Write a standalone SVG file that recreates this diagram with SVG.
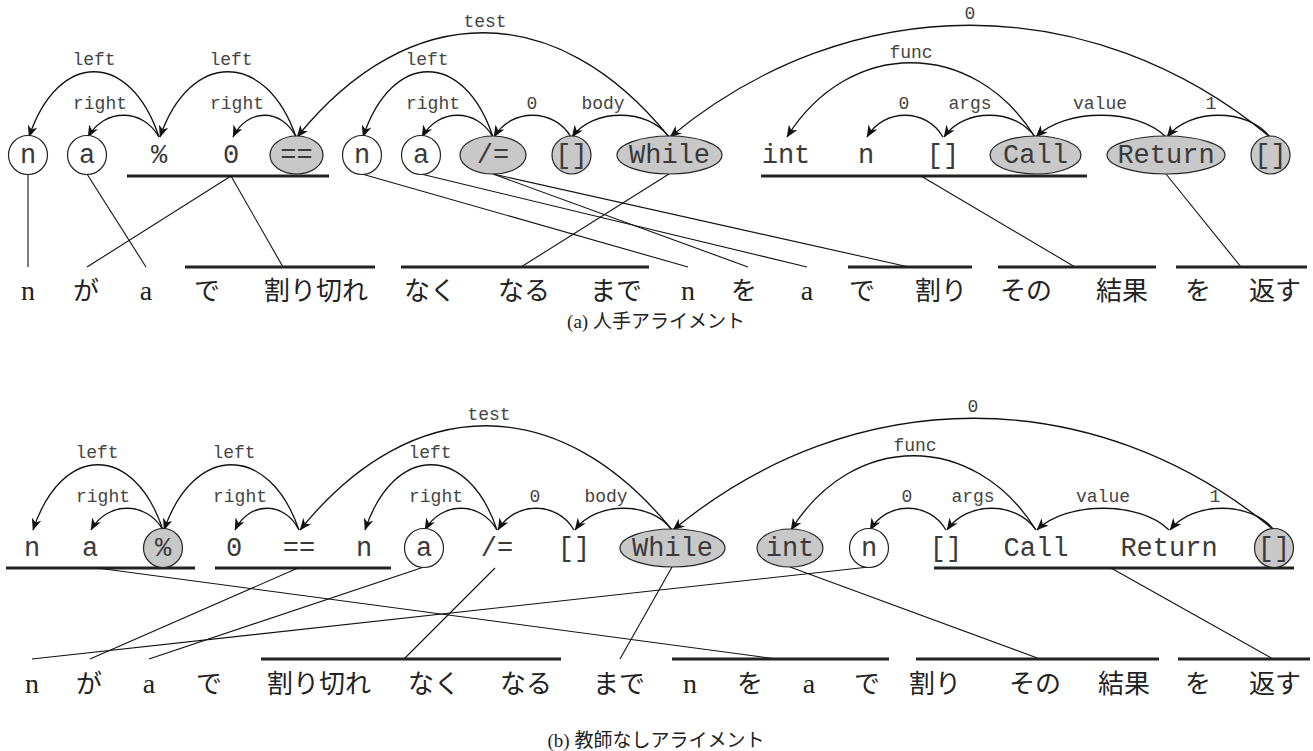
<svg xmlns="http://www.w3.org/2000/svg" width="1313" height="751" viewBox="0 0 1313 751">
<defs>
<marker id="ah" viewBox="0 0 12 10" refX="11.5" refY="5" markerWidth="12" markerHeight="10" markerUnits="userSpaceOnUse" orient="auto">
<path d="M0,0 L12,5 L0,10 L3.5,5 z" fill="#111"/>
</marker>
<style>
.arc{fill:none;stroke:#111;stroke-width:1.3;marker-end:url(#ah)}
.al{stroke:#111;stroke-width:1.1;fill:none}
.ul{stroke:#222;stroke-width:3}
.nd{fill:#fff;stroke:#222;stroke-width:1.2}
.g{fill:#c8c8c8}
.nt{font-family:"Liberation Mono",monospace;font-size:27px;fill:#3a3a3a;text-anchor:middle}
.el{font-family:"Liberation Mono",monospace;font-size:18px;fill:#444;text-anchor:middle}
.w{font-family:"Liberation Serif","Noto Sans CJK JP",serif;font-size:26px;fill:#222;text-anchor:middle}
.wl{font-size:28px}
.cap{font-family:"Liberation Serif","Noto Sans CJK JP",serif;font-size:19px;fill:#222;text-anchor:middle}
</style>
</defs>
<rect width="1313" height="751" fill="#fff"/>

<!-- ===== (a) ===== -->
<g id="a-connectors">
<path class="arc" d="M159,137 C130,50 58,50 29,137"/>
<path class="arc" d="M159,137 C143,108 104,108 88,137"/>
<path class="arc" d="M296,137 C266,50 190,50 160,137"/>
<path class="arc" d="M296,137 C282,108 247,108 233,137"/>
<path class="arc" d="M669,137 C557,-2 409,-2 297,137"/>
<path class="arc" d="M493,137 C464,50 392,50 363,137"/>
<path class="arc" d="M493,137 C477,108 438,108 422,137"/>
<path class="arc" d="M571,137 C554,108 511,108 494,137"/>
<path class="arc" d="M669,137 C648,108 593,108 572,137"/>
<path class="arc" d="M1270,137 C1090,-12 850,-12 670,137"/>
<path class="arc" d="M1035,137 C973,38 849,38 787,137"/>
<path class="arc" d="M943,137 C926,108 884,108 867,137"/>
<path class="arc" d="M1035,137 C1015,108 964,108 944,137"/>
<path class="arc" d="M1166,137 C1137,108 1065,108 1036,137"/>
<path class="arc" d="M1270,137 C1247,108 1190,108 1167,137"/>
<text class="el" x="94" y="65">left</text>
<text class="el" x="100" y="109">right</text>
<text class="el" x="231" y="65">left</text>
<text class="el" x="237" y="109">right</text>
<text class="el" x="485" y="27">test</text>
<text class="el" x="427" y="65">left</text>
<text class="el" x="433" y="109">right</text>
<text class="el" x="532" y="109">0</text>
<text class="el" x="603" y="109">body</text>
<text class="el" x="970" y="19">0</text>
<text class="el" x="911" y="58">func</text>
<text class="el" x="904" y="109">0</text>
<text class="el" x="970" y="109">args</text>
<text class="el" x="1100" y="109">value</text>
<text class="el" x="1211" y="109">1</text>
<line class="ul" x1="127" y1="176" x2="329" y2="176"/>
<line class="ul" x1="761" y1="176" x2="1087" y2="176"/>
<line class="al" x1="28" y1="174" x2="28" y2="267"/>
<line class="al" x1="87" y1="174" x2="146" y2="267"/>
<line class="al" x1="231" y1="176" x2="87" y2="267"/>
<line class="al" x1="231" y1="176" x2="283" y2="267"/>
<line class="al" x1="362" y1="174" x2="688" y2="267"/>
<line class="al" x1="421" y1="174" x2="807" y2="267"/>
<line class="al" x1="493" y1="174" x2="748" y2="267"/>
<line class="al" x1="493" y1="174" x2="909" y2="267"/>
<line class="al" x1="669" y1="174" x2="521" y2="267"/>
<line class="al" x1="921" y1="176" x2="1075" y2="267"/>
<line class="al" x1="1166" y1="174" x2="1241" y2="267"/>
<line class="ul" x1="185" y1="267" x2="375" y2="267"/>
<line class="ul" x1="401" y1="267" x2="649" y2="267"/>
<line class="ul" x1="848" y1="267" x2="972" y2="267"/>
<line class="ul" x1="998" y1="267" x2="1156" y2="267"/>
<line class="ul" x1="1176" y1="267" x2="1307" y2="267"/>
</g>
<g id="a-nodes">
<g id="a-n1"><circle class="nd" cx="28" cy="155" r="19.5"/><text class="nt" x="28" y="163">n</text></g>
<g id="a-a1"><circle class="nd" cx="87" cy="155" r="19.5"/><text class="nt" x="87" y="163">a</text></g>
<g id="a-mod"><text class="nt" x="159" y="163">%</text></g>
<g id="a-zero"><text class="nt" x="231" y="163">0</text></g>
<g id="a-eq"><ellipse class="nd g" cx="296.5" cy="155" rx="26.5" ry="19"/><text class="nt" x="296.5" y="163">==</text></g>
<g id="a-n2"><circle class="nd" cx="362" cy="155" r="19.5"/><text class="nt" x="362" y="163">n</text></g>
<g id="a-a2"><circle class="nd" cx="421" cy="155" r="19.5"/><text class="nt" x="421" y="163">a</text></g>
<g id="a-diveq"><ellipse class="nd g" cx="493" cy="155" rx="33" ry="19"/><text class="nt" x="493" y="163">/=</text></g>
<g id="a-list1"><ellipse class="nd g" cx="571.5" cy="155" rx="19.5" ry="19"/><text class="nt" x="571.5" y="163">[]</text></g>
<g id="a-while"><ellipse class="nd g" cx="669.5" cy="155" rx="52.5" ry="19"/><text class="nt" x="669.5" y="163">While</text></g>
<g id="a-int"><text class="nt" x="786" y="163">int</text></g>
<g id="a-n3"><text class="nt" x="866" y="163">n</text></g>
<g id="a-list2"><text class="nt" x="943" y="163">[]</text></g>
<g id="a-call"><ellipse class="nd g" cx="1035.5" cy="155" rx="45.5" ry="19"/><text class="nt" x="1035.5" y="163">Call</text></g>
<g id="a-return"><ellipse class="nd g" cx="1166" cy="155" rx="59" ry="19"/><text class="nt" x="1166" y="163">Return</text></g>
<g id="a-list3"><ellipse class="nd g" cx="1270.5" cy="155" rx="19.5" ry="19"/><text class="nt" x="1270.5" y="163">[]</text></g>
</g>
<g id="a-words">
<text class="w wl" x="28" y="300">n</text>
<text class="w" x="86" y="300">が</text>
<text class="w wl" x="146" y="300">a</text>
<text class="w" x="207" y="300">で</text>
<text class="w" x="316" y="300">割り切れ</text>
<text class="w" x="430" y="300">なく</text>
<text class="w" x="524" y="300">なる</text>
<text class="w" x="616" y="300">まで</text>
<text class="w wl" x="688" y="300">n</text>
<text class="w" x="744" y="300">を</text>
<text class="w wl" x="807" y="300">a</text>
<text class="w" x="862" y="300">で</text>
<text class="w" x="941" y="300">割り</text>
<text class="w" x="1026" y="300">その</text>
<text class="w" x="1122" y="300">結果</text>
<text class="w" x="1198" y="300">を</text>
<text class="w" x="1275" y="300">返す</text>
</g>
<text class="cap" x="656" y="328">(a) 人手アライメント</text>

<!-- ===== (b) ===== -->
<g id="b-connectors">
<path class="arc" d="M163,530 C134,443 62,443 33,530"/>
<path class="arc" d="M163,530 C147,501 107,501 91,530"/>
<path class="arc" d="M299,530 C269,443 194,443 164,530"/>
<path class="arc" d="M299,530 C285,501 249,501 235,530"/>
<path class="arc" d="M672,530 C560,391 412,391 300,530"/>
<path class="arc" d="M497,530 C468,443 394,443 365,530"/>
<path class="arc" d="M497,530 C481,501 441,501 425,530"/>
<path class="arc" d="M574,530 C557,501 515,501 498,530"/>
<path class="arc" d="M672,530 C651,501 596,501 575,530"/>
<path class="arc" d="M1274,530 C1094,381 853,381 673,530"/>
<path class="arc" d="M1036,530 C974,431 853,431 791,530"/>
<path class="arc" d="M946,530 C929,501 887,501 870,530"/>
<path class="arc" d="M1036,530 C1016,501 967,501 947,530"/>
<path class="arc" d="M1169,530 C1140,501 1066,501 1037,530"/>
<path class="arc" d="M1274,530 C1251,501 1193,501 1170,530"/>
<text class="el" x="97" y="458">left</text>
<text class="el" x="103" y="502">right</text>
<text class="el" x="234" y="458">left</text>
<text class="el" x="240" y="502">right</text>
<text class="el" x="489" y="420">test</text>
<text class="el" x="430" y="458">left</text>
<text class="el" x="436" y="502">right</text>
<text class="el" x="535" y="502">0</text>
<text class="el" x="606" y="502">body</text>
<text class="el" x="973" y="412">0</text>
<text class="el" x="915" y="451">func</text>
<text class="el" x="907" y="502">0</text>
<text class="el" x="973" y="502">args</text>
<text class="el" x="1103" y="502">value</text>
<text class="el" x="1215" y="502">1</text>
<line class="ul" x1="6" y1="568" x2="195" y2="568"/>
<line class="ul" x1="215" y1="568" x2="391" y2="568"/>
<line class="ul" x1="934" y1="568" x2="1294" y2="568"/>
<line class="al" x1="97" y1="568" x2="777" y2="659"/>
<line class="al" x1="298" y1="568" x2="90" y2="659"/>
<line class="al" x1="424" y1="567" x2="149" y2="659"/>
<line class="al" x1="495" y1="568" x2="404" y2="659"/>
<line class="al" x1="672" y1="567" x2="620" y2="659"/>
<line class="al" x1="869" y1="567" x2="32" y2="659"/>
<line class="al" x1="790" y1="567" x2="1040" y2="659"/>
<line class="al" x1="1111" y1="568" x2="1273" y2="659"/>
<line class="ul" x1="261" y1="659" x2="561" y2="659"/>
<line class="ul" x1="672" y1="659" x2="889" y2="659"/>
<line class="ul" x1="916" y1="659" x2="1159" y2="659"/>
<line class="ul" x1="1178" y1="659" x2="1310" y2="659"/>
</g>
<g id="b-nodes">
<g id="b-n1"><text class="nt" x="32" y="556">n</text></g>
<g id="b-a1"><text class="nt" x="90" y="556">a</text></g>
<g id="b-mod"><circle class="nd g" cx="163" cy="548" r="19.5"/><text class="nt" x="163" y="556">%</text></g>
<g id="b-zero"><text class="nt" x="234" y="556">0</text></g>
<g id="b-eq"><text class="nt" x="299" y="556">==</text></g>
<g id="b-n2"><text class="nt" x="364" y="556">n</text></g>
<g id="b-a2"><circle class="nd" cx="424" cy="548" r="19.5"/><text class="nt" x="424" y="556">a</text></g>
<g id="b-diveq"><text class="nt" x="497" y="556">/=</text></g>
<g id="b-list1"><text class="nt" x="574" y="556">[]</text></g>
<g id="b-while"><ellipse class="nd g" cx="672.5" cy="548" rx="52.5" ry="19"/><text class="nt" x="672.5" y="556">While</text></g>
<g id="b-int"><ellipse class="nd g" cx="790" cy="548" rx="33" ry="19"/><text class="nt" x="790" y="556">int</text></g>
<g id="b-n3"><circle class="nd" cx="869" cy="548" r="19.5"/><text class="nt" x="869" y="556">n</text></g>
<g id="b-list2"><text class="nt" x="946" y="556">[]</text></g>
<g id="b-call"><text class="nt" x="1036" y="556">Call</text></g>
<g id="b-return"><text class="nt" x="1169" y="556">Return</text></g>
<g id="b-list3"><circle class="nd g" cx="1274" cy="548" r="19.5"/><text class="nt" x="1274" y="556">[]</text></g>
</g>
<g id="b-words">
<text class="w wl" x="32" y="693">n</text>
<text class="w" x="89" y="693">が</text>
<text class="w wl" x="149" y="693">a</text>
<text class="w" x="209" y="693">で</text>
<text class="w" x="319" y="693">割り切れ</text>
<text class="w" x="434" y="693">なく</text>
<text class="w" x="526" y="693">なる</text>
<text class="w" x="619" y="693">まで</text>
<text class="w wl" x="690" y="693">n</text>
<text class="w" x="750" y="693">を</text>
<text class="w wl" x="809" y="693">a</text>
<text class="w" x="867" y="693">で</text>
<text class="w" x="935" y="693">割り</text>
<text class="w" x="1035" y="693">その</text>
<text class="w" x="1124" y="693">結果</text>
<text class="w" x="1198" y="693">を</text>
<text class="w" x="1275" y="693">返す</text>
</g>
<text class="cap" x="656" y="747">(b) 教師なしアライメント</text>
</svg>
